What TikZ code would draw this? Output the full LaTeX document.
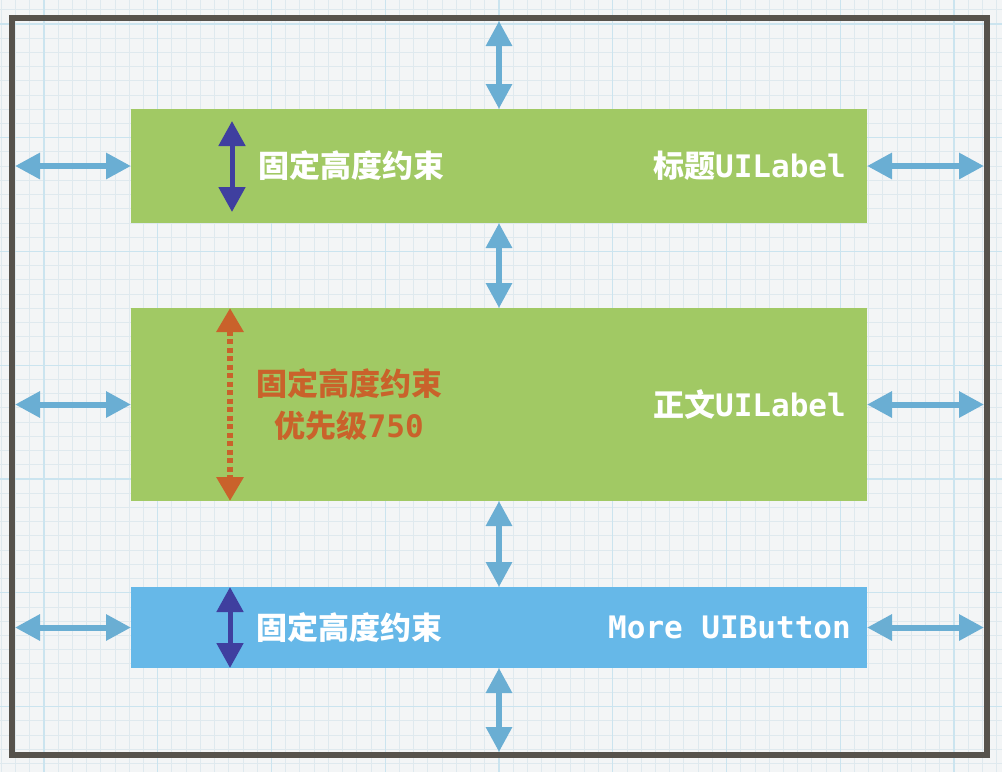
\documentclass[tikz,border=0pt]{standalone}
\usepackage{fontspec}
\usepackage{xcolor}
\usepackage{tikz}
\usetikzlibrary{arrows.meta,positioning}

\newfontfamily\cjk{Noto Sans CJK SC}
\newfontfamily\mono{DejaVu Sans Mono}

\definecolor{paper}{HTML}{F3F5F6}
\definecolor{gridgrey}{HTML}{DFE9EE}
\definecolor{gridblue}{HTML}{CBE4EF}
\definecolor{framegrey}{HTML}{56524C}
\definecolor{boxgreen}{HTML}{A1C964}
\definecolor{boxblue}{HTML}{66B8E8}
\definecolor{spaceblue}{HTML}{6AAED3}
\definecolor{fixpurple}{HTML}{3F3F9F}
\definecolor{softorange}{HTML}{C9622B}

\begin{document}
\begin{tikzpicture}[
    x=1pt, y=-1pt,
    gridminor/.style={draw=gridgrey, line width=1pt},
    gridmajor/.style={draw=gridblue, line width=1.4pt},
    superview/.style={rectangle, draw=framegrey, line width=6pt, minimum width=975pt, minimum height=737pt, outer sep=-3pt},
    uibox/.style={rectangle, fill=boxgreen, minimum width=736pt, inner sep=0pt, outer sep=0pt},
    hint/.style={inner sep=0pt, text=white, font=\fontsize{31}{42}\selectfont\bfseries},
    viewname/.style={inner sep=0pt, text=white, font=\fontsize{31}{42}\selectfont\bfseries},
    spacer/.style={{Triangle[length=25pt,width=25pt]}-{Triangle[length=25pt,width=25pt]}, draw=spaceblue, line width=6pt},
    fixedh/.style={{Triangle[length=25pt,width=26pt]}-{Triangle[length=25pt,width=26pt]}, draw=fixpurple, line width=5pt},
    softh/.style={{Triangle[length=24pt,width=26pt]}-{Triangle[length=24pt,width=26pt]}, draw=softorange, line width=6pt, dash pattern=on 5pt off 3.5pt}
]

% paper and grid
\fill[paper] (0,0) rectangle (1002,772);
\useasboundingbox (0,0) rectangle (1002,772);
\foreach \i in {0,...,70}
    \draw[gridminor] ({1.34+\i*14.22},0) -- ++(0,772);
\foreach \j in {0,...,53}
    \draw[gridminor] (0,{9.78+\j*14.22}) -- ++(1002,0);
\foreach \k in {0,...,8}
    \draw[gridmajor] ({44+\k*113.75},0) -- ++(0,772);
\foreach \k in {0,...,6}
    \draw[gridmajor] (0,{24+\k*113.75}) -- ++(1002,0);

% superview and subviews
\node[superview] (frame) at (499.5,386.5) {};
\node[uibox, minimum height=114pt] (title) at (499,166) {};
\node[uibox, minimum height=193pt] (body) at (499,404.5) {};
\node[uibox, fill=boxblue, minimum height=81pt] (more) at (499,627.5) {};

% labels
\node[viewname, left=21pt of title.east] (titlename) {{\cjk 标题}{\mono UILabel}};
\node[viewname, left=21pt of body.east] (bodyname) {{\cjk 正文}{\mono UILabel}};
\node[viewname, left=16pt of more.east] (morename) {{\mono More UIButton}};
\node[hint, right=127pt of title.west] (titlehint) {\cjk 固定高度约束};
\node[hint, text=softorange, align=center, right=125pt of body.west] (bodyhint) {\cjk 固定高度约束\\\cjk 优先级{\mono 750}};
\node[hint, right=125pt of more.west] (morehint) {\cjk 固定高度约束};

% spacing constraints
\draw[spacer] (frame.north -| title.north) -- (title.north);
\draw[spacer] (title.south) -- (body.north);
\draw[spacer] (body.south) -- (more.north);
\draw[spacer] (more.south) -- (frame.south -| more.south);
\foreach \v in {title,body,more} {
    \draw[spacer] (frame.west |- \v.west) -- (\v.west);
    \draw[spacer] (\v.east) -- (frame.east |- \v.east);
}

% height constraints
\coordinate (ttop) at ([xshift=101pt,yshift=-12pt]title.north west);
\coordinate (tbot) at ([xshift=101pt,yshift=11pt]title.south west);
\draw[fixedh] (ttop) -- (tbot);
\draw[softh] ([xshift=99pt]body.north west) -- ([xshift=99pt]body.south west);
\draw[fixedh] ([xshift=99pt]more.north west) -- ([xshift=99pt]more.south west);

\end{tikzpicture}
\end{document}
